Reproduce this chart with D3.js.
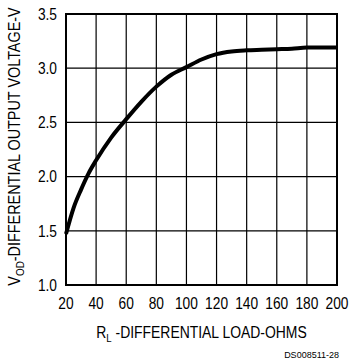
<!DOCTYPE html>
<html>
<head>
<meta charset="utf-8">
<script src="https://cdn.jsdelivr.net/npm/d3@7"></script>
<style>
  body { margin: 0; background: #fff; }
  text { font-family: 'Liberation Sans', Arial, sans-serif; fill: #000; }
</style>
</head>
<body>
<div id="chart"></div>
<script>
// load resistance (ohms)
const loadOhms = [20, 25, 30, 35, 40, 50, 60, 70, 80, 90, 100, 110, 120, 130, 140, 150, 160, 170, 180, 190, 200]
// differential output voltage (V)
const vod = [1.47, 1.71, 1.88, 2.03, 2.15, 2.36, 2.53, 2.69, 2.83, 2.94, 3.01, 3.08, 3.13, 3.155, 3.165, 3.17, 3.175, 3.18, 3.19, 3.19, 3.19]

const xTicks = [20, 40, 60, 80, 100, 120, 140, 160, 180, 200]
const yTicks = [1.0, 1.5, 2.0, 2.5, 3.0, 3.5]

const margin = { top: 14, right: 12, bottom: 77, left: 66 }
const width = 349 - margin.left - margin.right
const height = 362 - margin.top - margin.bottom

// the lettering on the original is tall and narrow, so squeeze it sideways
const squeeze = 0.86

const root = d3
  .select('#chart')
  .append('svg')
  .attr('width', 349)
  .attr('height', 362)

const svg = root
  .append('g')
  .attr('transform', 'translate(' + margin.left + ',' + margin.top + ')')

const xPositionScale = d3.scaleLinear().domain([20, 200]).range([0, width])
const yPositionScale = d3.scaleLinear().domain([1.0, 3.5]).range([height, 0])

// grid lines
svg
  .selectAll('.vgrid')
  .data(xTicks)
  .enter()
  .append('line')
  .attr('x1', d => xPositionScale(d))
  .attr('x2', d => xPositionScale(d))
  .attr('y1', 0)
  .attr('y2', height)
  .attr('stroke', '#000')
  .attr('stroke-width', 1.2)

svg
  .selectAll('.hgrid')
  .data(yTicks)
  .enter()
  .append('line')
  .attr('x1', 0)
  .attr('x2', width)
  .attr('y1', d => yPositionScale(d))
  .attr('y2', d => yPositionScale(d))
  .attr('stroke', '#000')
  .attr('stroke-width', 1.2)

// frame
svg
  .append('rect')
  .attr('width', width)
  .attr('height', height)
  .attr('fill', 'none')
  .attr('stroke', '#000')
  .attr('stroke-width', 2)

// tick labels
svg
  .selectAll('.xlab')
  .data(xTicks)
  .enter()
  .append('g')
  .attr('transform', d => 'translate(' + xPositionScale(d) + ',' + (height + 24) + ') scale(' + squeeze + ',1)')
  .append('text')
  .attr('text-anchor', 'middle')
  .attr('font-size', 16)
  .text(d => d)

svg
  .selectAll('.ylab')
  .data(yTicks)
  .enter()
  .append('g')
  .attr('transform', d => 'translate(-9,' + yPositionScale(d) + ') scale(' + squeeze + ',1)')
  .append('text')
  .attr('dy', '0.36em')
  .attr('text-anchor', 'end')
  .attr('font-size', 16)
  .text(d => d3.format('.1f')(d))

// the curve
const line = d3
  .line()
  .x(d => xPositionScale(d[0]))
  .y(d => yPositionScale(d[1]))
  .curve(d3.curveMonotoneX)

svg
  .append('path')
  .datum(loadOhms.map((r, i) => [r, vod[i]]))
  .attr('d', line)
  .attr('fill', 'none')
  .attr('stroke', '#000')
  .attr('stroke-width', 4)
  .attr('stroke-linejoin', 'round')

// x axis title
const xTitle = root
  .append('g')
  .attr('transform', 'translate(' + (margin.left + width / 2) + ',338) scale(0.87,1)')
  .append('text')
  .attr('text-anchor', 'middle')
  .attr('font-size', 16)
xTitle.append('tspan').text('R')
xTitle.append('tspan').attr('font-size', 11).attr('dy', 4).text('L')
xTitle.append('tspan').attr('dy', -4).text(' -DIFFERENTIAL LOAD-OHMS')

// y axis title
const yTitle = root
  .append('g')
  .attr('transform', 'translate(20,' + (margin.top + height / 2 - 3) + ') rotate(-90) scale(0.9,1)')
  .append('text')
  .attr('text-anchor', 'middle')
  .attr('font-size', 16)
yTitle.append('tspan').text('V')
yTitle.append('tspan').attr('font-size', 11).attr('dy', 4).text('OD')
yTitle.append('tspan').attr('dy', -4).text('-DIFFERENTIAL OUTPUT VOLTAGE-V')

// figure code
root
  .append('text')
  .attr('x', 339)
  .attr('y', 358)
  .attr('text-anchor', 'end')
  .attr('font-size', 9)
  .text('DS008511-28')
</script>
</body>
</html>
